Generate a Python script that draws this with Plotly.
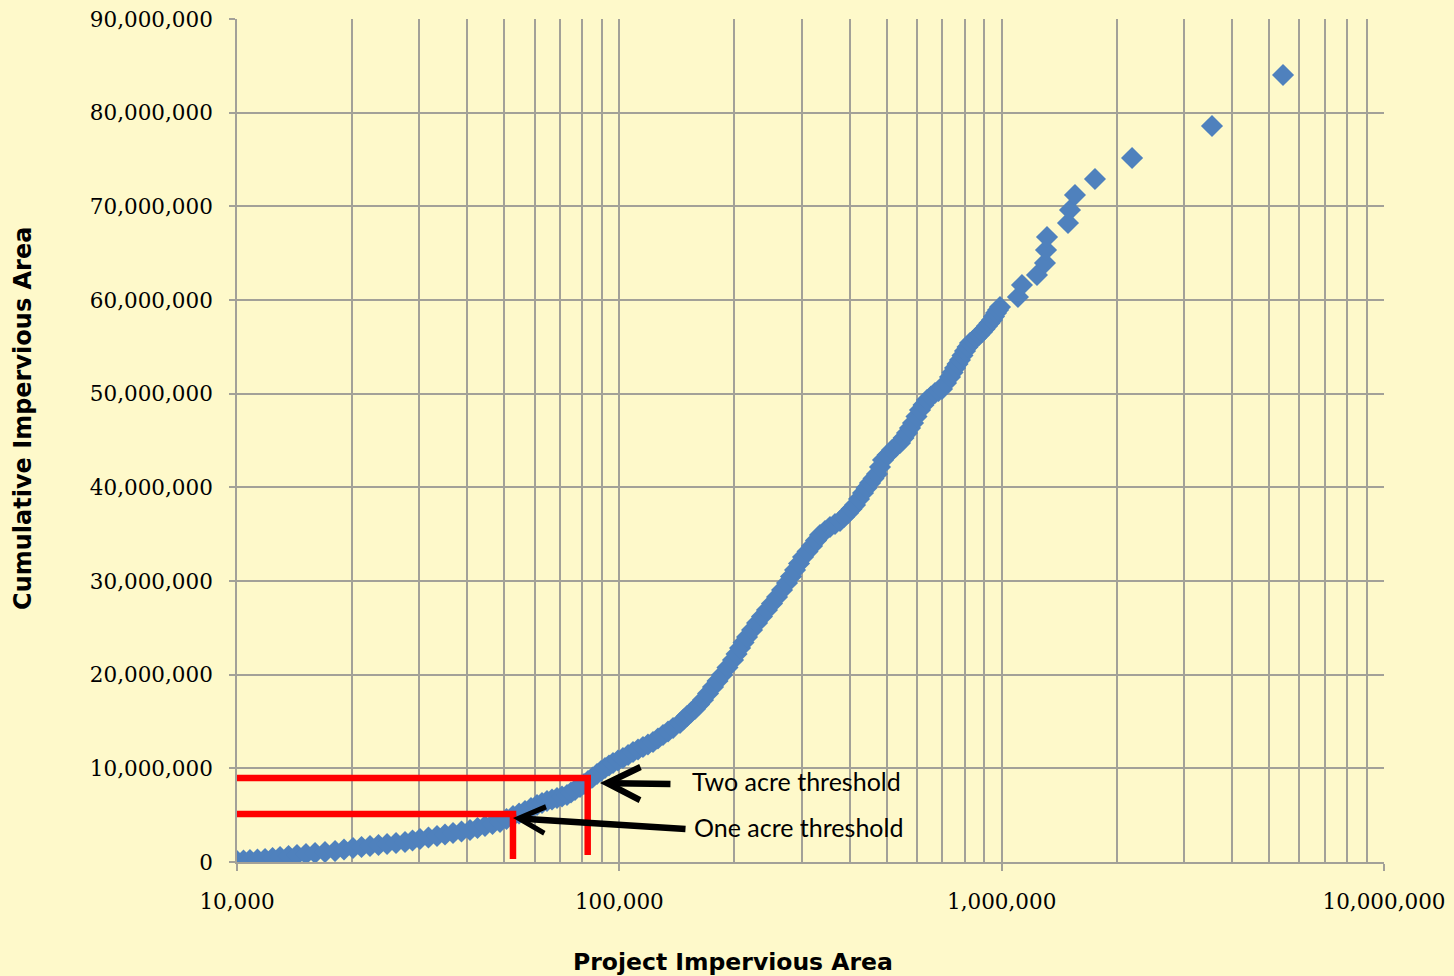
import math
import plotly.graph_objects as go

# Project impervious area (sq ft), sorted ascending, and running total
project_area = [
    10000, 10400, 10810, 11310, 11840, 12390, 12960, 13640, 14350, 15150,
    16000, 16990, 18050, 19050, 20110, 21170, 22280, 23450, 24690, 26060,
    27510, 28780, 30100, 31680, 33350, 35000, 36730, 38660, 40690, 42570,
    44530, 46590, 48740, 50690, 52710, 54660, 56670, 58750, 60910, 62770,
    64690, 66670, 68710, 70810, 72980, 74760, 76580, 78910, 80840, 82810,
    85090, 87420, 89550, 91730, 93960, 96250, 99180, 102200, 105400, 108600,
    111900, 115300, 118800, 122500, 126200, 130100, 134100, 138200, 144100, 147200,
    150300, 153900, 157700, 161600, 165500, 170600, 175800, 180600, 185600, 191800,
    198300, 202600, 206900, 211300, 215800, 222400, 229200, 236100, 243300, 250800,
    258500, 266400, 274500, 281200, 288100, 295100, 302300, 310600, 319100, 326900,
    334800, 345100, 355600, 366500, 377700, 386900, 396400, 404900, 413500, 423500,
    433800, 443000, 452500, 462100, 472000, 480600, 489400, 502900, 516700, 529300,
    542200, 553700, 565500, 575800, 586300, 598800, 611500, 624500, 637800, 653400,
    669300, 683600, 698200, 715300, 732700, 743800, 755100, 766500, 778000, 789800,
    801800, 814000, 826300, 841400, 856700, 872300, 888200, 901700, 915500, 929300,
    943300, 954900, 966600, 978300, 990100, 1103000, 1130000, 1237000, 1298000, 1306000,
    1314000, 1491000, 1509000, 1555000, 1754000, 2193000, 3549000, 5444000,
]
cumulative_area = [
    110000, 160000, 210000, 265000, 320000, 425000, 530000, 640000, 750000, 855000,
    960000, 1065000, 1170000, 1330000, 1490000, 1600000, 1710000, 1815000, 1920000, 2030000,
    2140000, 2300000, 2460000, 2620000, 2780000, 2940000, 3100000, 3260000, 3420000, 3630000,
    3840000, 4055000, 4270000, 4590000, 4910000, 5175000, 5440000, 5765000, 6090000, 6300000,
    6510000, 6670000, 6830000, 6990000, 7150000, 7420000, 7690000, 8010000, 8330000, 8650000,
    9020000, 9390000, 9715000, 10040000, 10305000, 10570000, 10835000, 11100000, 11420000, 11740000,
    12010000, 12280000, 12545000, 12810000, 13185000, 13560000, 13935000, 14310000, 14840000, 15215000,
    15590000, 15960000, 16330000, 16810000, 17290000, 17985000, 18680000, 19320000, 19960000, 20765000,
    21570000, 22210000, 22850000, 23435000, 24020000, 24770000, 25520000, 26210000, 26900000, 27595000,
    28290000, 29040000, 29790000, 30480000, 31170000, 31865000, 32560000, 33150000, 33740000, 34325000,
    34910000, 35335000, 35760000, 36080000, 36400000, 36830000, 37260000, 37685000, 38110000, 38750000,
    39390000, 39925000, 40460000, 40940000, 41420000, 42170000, 42920000, 43450000, 43980000, 44355000,
    44730000, 45265000, 45800000, 46335000, 46870000, 47560000, 48250000, 48785000, 49320000, 49695000,
    50070000, 50285000, 50500000, 51140000, 51780000, 52260000, 52740000, 53165000, 53590000, 54070000,
    54550000, 54980000, 55410000, 55675000, 55940000, 56260000, 56580000, 56900000, 57220000, 57540000,
    57860000, 58235000, 58610000, 58930000, 59250000, 60320000, 61600000, 62670000, 63950000, 65340000,
    66720000, 68220000, 69610000, 71210000, 72920000, 75160000, 78570000, 84020000,
]

# Threshold guides: (project area, cumulative area, bottom of vertical leg)
one_acre_guide = (52700, 5120000, 320000)
two_acre_guide = (82650, 8970000, 750000)

# Arrow tips on the curve and labels
one_acre_tip = (52710, 4700000)
two_acre_tip = (88990, 8430000)
label_one = "One acre threshold"
label_two = "Two acre threshold"

x_ticks = [10000, 100000, 1000000, 10000000]
x_tick_text = ["10,000", "100,000", "1,000,000", "10,000,000"]

BG = "#FEF9CA"
GRID = "#a3a198"
BLUE = "#4F81BD"
RED = "#FF0000"

fig = go.Figure()
fig.add_trace(go.Scatter(
    x=project_area, y=cumulative_area, mode="markers",
    marker=dict(symbol="diamond", size=17, color=BLUE, line=dict(width=0)),
    showlegend=False, hoverinfo="x+y",
))

shapes = []
for gx, gy, gb in (one_acre_guide, two_acre_guide):
    shapes.append(dict(type="line", xref="x", yref="y", x0=10000, x1=gx * 1.02, y0=gy, y1=gy,
                       line=dict(color=RED, width=6.5), layer="above"))
    shapes.append(dict(type="line", xref="x", yref="y", x0=gx, x1=gx, y0=gy, y1=gb,
                       line=dict(color=RED, width=6.5), layer="above"))

annotations = [
    # arrows pointing at the thresholds on the curve
    dict(x=math.log10(two_acre_tip[0]), y=two_acre_tip[1], xref="x", yref="y",
         text="", showarrow=True, ax=72, ay=1, arrowhead=5, arrowsize=1.0,
         arrowwidth=6.5, arrowcolor="black", standoff=0),
    dict(x=math.log10(one_acre_tip[0]), y=one_acre_tip[1], xref="x", yref="y",
         text="", showarrow=True, ax=174, ay=11, arrowhead=5, arrowsize=0.8,
         arrowwidth=6.5, arrowcolor="black", standoff=0),
    dict(x=0.3949, y=0.0961, xref="paper", yref="paper", text=label_two,
         showarrow=False, xanchor="left", yanchor="middle",
         font=dict(family="Lato", size=25, color="black")),
    dict(x=0.3967, y=0.0415, xref="paper", yref="paper", text=label_one,
         showarrow=False, xanchor="left", yanchor="middle",
         font=dict(family="Lato", size=25, color="black")),
    # axis titles
    dict(x=0.4324, y=-0.1186, xref="paper", yref="paper", text="<b>Project Impervious Area</b>",
         showarrow=False, xanchor="center", yanchor="middle",
         font=dict(family="DejaVu Sans", size=23.5, color="black")),
    dict(x=-0.1866, y=0.5267, xref="paper", yref="paper", text="<b>Cumulative Impervious Area</b>",
         showarrow=False, xanchor="center", yanchor="middle", textangle=-90,
         font=dict(family="DejaVu Sans", size=24, color="black")),
]

tick_font = dict(family="DejaVu Serif", size=21.5, color="black")

fig.update_layout(
    width=1454, height=976,
    margin=dict(l=237, r=70, t=19, b=114, autoexpand=False),
    paper_bgcolor=BG, plot_bgcolor=BG,
    shapes=shapes, annotations=annotations,
    xaxis=dict(
        type="log", range=[4, 7], tickvals=x_ticks, ticktext=x_tick_text,
        showgrid=True, gridcolor=GRID, gridwidth=1.6,
        minor=dict(dtick="D1", showgrid=True, gridcolor=GRID, gridwidth=1.6, ticks=""),
        showline=True, linecolor=GRID, linewidth=1.6,
        ticks="outside", ticklen=7, tickcolor=GRID, tickwidth=1.6,
        tickfont=tick_font, ticklabelstandoff=12, zeroline=False, automargin=False,
    ),
    yaxis=dict(
        range=[0, 90000000], dtick=10000000, tickformat=",d",
        showgrid=True, gridcolor=GRID, gridwidth=1.6,
        showline=True, linecolor=GRID, linewidth=1.6,
        ticks="outside", ticklen=6, tickcolor=GRID, tickwidth=1.6,
        tickfont=tick_font, ticklabelstandoff=12, zeroline=False, automargin=False,
    ),
)

fig.write_html("out.html")
